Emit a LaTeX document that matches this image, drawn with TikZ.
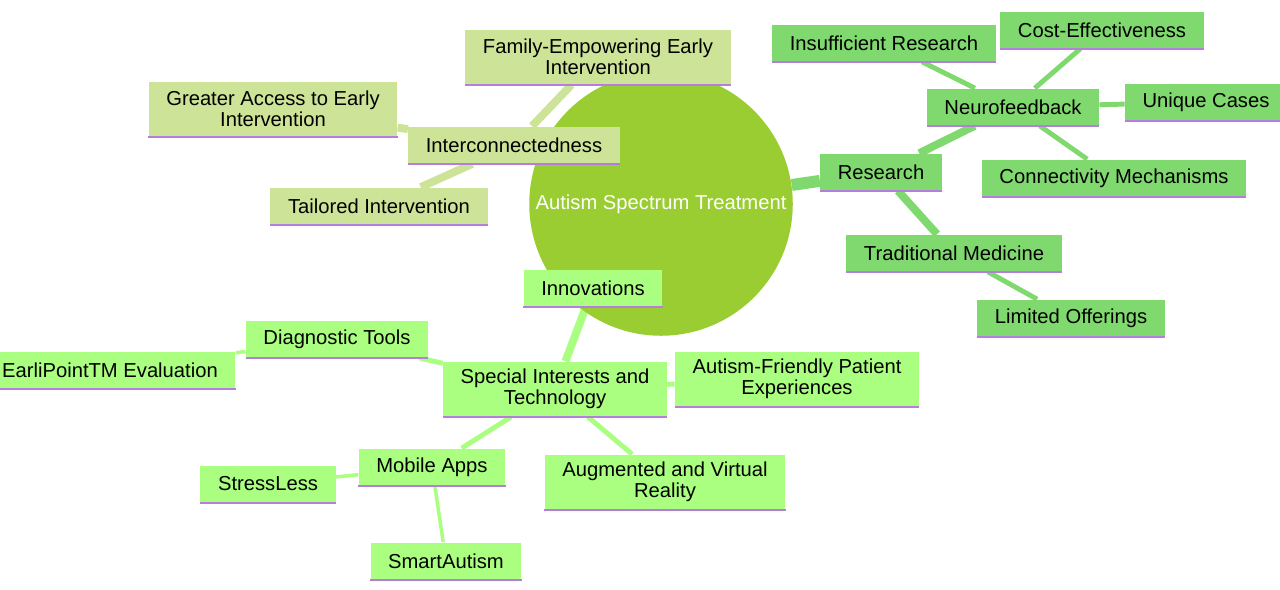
\documentclass[tikz,border=0pt]{standalone}
\usepackage{fontspec}
\setmainfont{Liberation Sans}
\usetikzlibrary{backgrounds}
\definecolor{rootc}{HTML}{9ACD32}
\definecolor{interc}{HTML}{CDE498}
\definecolor{resc}{HTML}{80D96F}
\definecolor{innoc}{HTML}{AAFF80}
\definecolor{linec}{HTML}{B57EDC}

\begin{document}
\begin{tikzpicture}[x=0.02cm, y=-0.02cm,
    box/.style={fill=#1, inner xsep=10pt, inner ysep=0pt, minimum height=0.74cm,
      align=center, font=\fontsize{11.5}{12}\selectfont},
    tall/.style={minimum height=1.1cm},
    edge/.style={draw=#1, line width=2.8pt}]
  \useasboundingbox (0,0) rectangle (1280,589);

  \node[circle, fill=rootc, minimum size=4.6cm, text=white,
    font=\fontsize{11.5}{12}\selectfont] (root) at (661,204) {Autism Spectrum Treatment};

  % interconnectedness
  \node[box=interc] (inter) at (514,145) {Interconnectedness};
  \node[box=interc, tall] (fam) at (598,57) {Family-Empowering Early\\Intervention};
  \node[box=interc, tall] (greater) at (273,109) {Greater Access to Early\\Intervention};
  \node[box=interc] (tailored) at (379,206) {Tailored Intervention};

  % research
  \node[box=resc] (research) at (881,172) {Research};
  \node[box=resc] (neuro) at (1013,107) {Neurofeedback};
  \node[box=resc] (insuff) at (884,43) {Insufficient Research};
  \node[box=resc] (cost) at (1102,30) {Cost-Effectiveness};
  \node[box=resc] (unique) at (1206,102) {Unique Cases};
  \node[box=resc] (conn) at (1114,178) {Connectivity Mechanisms};
  \node[box=resc] (trad) at (954,253) {Traditional Medicine};
  \node[box=resc] (limited) at (1071,318) {Limited Offerings};

  % innovations
  \node[box=innoc] (innov) at (593,288) {Innovations};
  \node[box=innoc, tall] (special) at (555,389) {Special Interests and\\Technology};
  \node[box=innoc] (diag) at (337,339) {Diagnostic Tools};
  \node[box=innoc] (earli) at (110,370) {EarliPointTM Evaluation};
  \node[box=innoc, tall] (friendly) at (797,379) {Autism-Friendly Patient\\Experiences};
  \node[box=innoc, tall] (ar) at (665,482) {Augmented and Virtual\\Reality};
  \node[box=innoc] (mobile) at (432,467) {Mobile Apps};
  \node[box=innoc] (stress) at (268,484) {StressLess};
  \node[box=innoc] (smart) at (446,561) {SmartAutism};

  \foreach \n in {inter,fam,greater,tailored,research,neuro,insuff,cost,unique,conn,
      trad,limited,innov,special,diag,earli,friendly,ar,mobile,stress,smart}
    \draw[linec, line width=1.5pt] (\n.south west) -- (\n.south east);

  \begin{scope}[on background layer]
    \draw[edge=interc, line width=6.8pt] (root) -- (inter);
    \draw[edge=interc, line width=4.5pt] (inter) -- (fam);
    \draw[edge=interc, line width=4.5pt] (inter) -- (greater);
    \draw[edge=interc, line width=4.5pt] (inter) -- (tailored);
    \draw[edge=resc, line width=6.8pt] (root) -- (research);
    \draw[edge=resc, line width=4.5pt] (research) -- (neuro);
    \draw[edge=resc, line width=4.5pt] (research) -- (trad);
    \draw[edge=resc] (neuro) -- (insuff);
    \draw[edge=resc] (neuro) -- (cost);
    \draw[edge=resc] (neuro) -- (unique);
    \draw[edge=resc] (neuro) -- (conn);
    \draw[edge=resc] (trad) -- (limited);
    \draw[edge=innoc, line width=6.8pt] (root) -- (innov);
    \draw[edge=innoc, line width=4.5pt] (innov) -- (special);
    \draw[edge=innoc] (special) -- (diag);
    \draw[edge=innoc] (special) -- (friendly);
    \draw[edge=innoc] (special) -- (ar);
    \draw[edge=innoc] (special) -- (mobile);
    \draw[edge=innoc, line width=2pt] (diag) -- (earli);
    \draw[edge=innoc, line width=2pt] (mobile) -- (stress);
    \draw[edge=innoc, line width=2pt] (mobile) -- (smart);
  \end{scope}
\end{tikzpicture}
\end{document}
